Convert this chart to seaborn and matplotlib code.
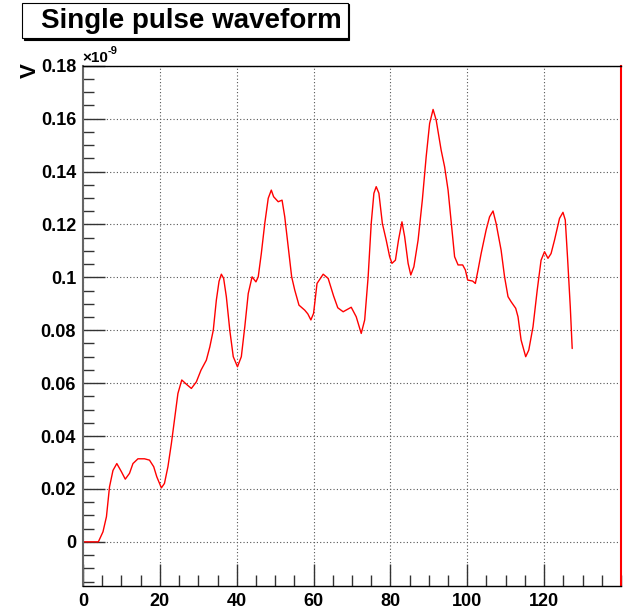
import matplotlib
matplotlib.use("Agg")
import matplotlib.pyplot as plt
import matplotlib.ticker as mticker
from matplotlib.patches import Rectangle
import seaborn as sns
import pandas as pd

# ---- data (values in units of 1e-9 V) ----
time_ns = [0, 2, 4, 5.2, 6.1, 6.9, 7.8, 8.8, 10.0, 11.0, 12.1, 13.0, 14.3, 16.0,
           17.3, 18.4, 19.2, 20.4, 21.2, 22.1, 23.0, 23.8, 24.7, 25.7, 26.9, 28.2,
           29.5, 30.7, 32.1, 33.0, 33.9, 34.7, 35.4, 36.0, 36.6, 37.3, 38.2, 39.1,
           40.2, 41.2, 42.1, 43.0, 44.0, 45.0, 45.6, 46.4, 47.3, 48.2, 49.0, 49.6,
           50.8, 51.8, 52.5, 53.4, 54.3, 55.1, 56.2, 57.7, 58.5, 59.3, 60.0, 60.9,
           62.5, 63.8, 65.2, 66.3, 67.7, 69.8, 71.1, 72.4, 73.3, 74.2, 75.0, 75.7,
           76.3, 77.0, 77.9, 78.9, 79.8, 80.4, 81.3, 82.1, 83.0, 83.7, 84.6, 85.3,
           86.1, 87.2, 88.3, 89.3, 90.2, 91.1, 91.9, 93.2, 94.1, 95.0, 95.9, 96.7,
           97.6, 98.8, 99.5, 100.1, 101.4, 102.1, 102.8, 103.6, 104.9, 105.8, 106.7,
           107.5, 108.8, 109.7, 110.6, 111.4, 112.6, 113.2, 114.0, 115.2, 116.0,
           117.1, 118.2, 119.2, 120.1, 121.0, 121.8, 122.7, 124.0, 124.9, 125.5,
           126.1, 126.8, 127.3]
voltage = [0, 0, 0, 0.0038, 0.0095, 0.0208, 0.027, 0.0296, 0.0265, 0.0237, 0.0259,
           0.0296, 0.0314, 0.0314, 0.0309, 0.0284, 0.0246, 0.0204, 0.0221, 0.0284,
           0.0372, 0.046, 0.0561, 0.0612, 0.0596, 0.058, 0.0605, 0.0649, 0.0687,
           0.0737, 0.080, 0.0914, 0.0985, 0.1012, 0.0996, 0.0927, 0.080, 0.070,
           0.0662, 0.070, 0.0813, 0.0939, 0.1002, 0.0983, 0.1002, 0.109, 0.1204,
           0.1299, 0.133, 0.1305, 0.1286, 0.1292, 0.1229, 0.1116, 0.1002, 0.0952,
           0.0895, 0.0876, 0.0862, 0.0839, 0.0864, 0.0977, 0.1012, 0.0996, 0.093,
           0.0885, 0.087, 0.0887, 0.0851, 0.0788, 0.0839, 0.1002, 0.1204, 0.1318,
           0.1343, 0.1318, 0.1204, 0.1141, 0.1078, 0.1053, 0.1065, 0.1141, 0.121,
           0.1154, 0.1053, 0.1009, 0.104, 0.1141, 0.1292, 0.1456, 0.1582, 0.1635,
           0.1595, 0.1481, 0.1418, 0.133, 0.1195, 0.1078, 0.1047, 0.1047, 0.1028,
           0.099, 0.0986, 0.0977, 0.1028, 0.109, 0.1179, 0.1229, 0.1251, 0.1204,
           0.1103, 0.1002, 0.0927, 0.0908, 0.0883, 0.0851, 0.0763, 0.070, 0.0725,
           0.0813, 0.0952, 0.1065, 0.1097, 0.1072, 0.109, 0.1141, 0.1223, 0.1246,
           0.1217, 0.1072, 0.0889, 0.0731]
x_ticks = [0, 20, 40, 60, 80, 100, 120]
y_ticks = [0, 0.02, 0.04, 0.06, 0.08, 0.1, 0.12, 0.14, 0.16, 0.18]
title = "Single pulse waveform"
y_label = "V"
exponent_base = "\u00d710"
exponent_power = "-9"

df = pd.DataFrame({"t": time_ns, "v": voltage})

sns.set_style("white")
plt.rcParams['font.family'] = ['Liberation Sans', 'DejaVu Sans']
plt.rcParams['font.weight'] = 'bold'
plt.rcParams['text.color'] = 'black'
plt.rcParams['xtick.color'] = 'black'
plt.rcParams['ytick.color'] = 'black'

W, H = 625, 613
fig = plt.figure(figsize=(W / 100, H / 100), dpi=100)
L, R, T, B = 83, 621, 65.8, 586
ax = fig.add_axes([L / W, 1 - B / H, (R - L) / W, (B - T) / H])

sns.lineplot(data=df, x="t", y="v", ax=ax, color="#ff0000", linewidth=1.0)

ax.set_xlim(0, 140)
ax.set_ylim(-0.0167, 0.18)
ax.set_xlabel("")
ax.set_ylabel("")

ax.xaxis.set_major_locator(mticker.FixedLocator(x_ticks))
ax.xaxis.set_minor_locator(mticker.MultipleLocator(5))
ax.yaxis.set_major_locator(mticker.FixedLocator(y_ticks))
ax.yaxis.set_minor_locator(mticker.MultipleLocator(0.005))
ax.yaxis.set_major_formatter(mticker.FuncFormatter(lambda v, p: f"{v:g}"))
ax.xaxis.set_major_formatter(mticker.FuncFormatter(lambda v, p: f"{v:g}"))

ax.tick_params(axis="both", which="both", bottom=True, left=True, top=False, right=False)
ax.tick_params(axis="both", which="major", direction="in", length=16, width=1,
               color="#333333", labelcolor="black", labelsize=13, pad=5)
ax.tick_params(axis="both", which="minor", direction="in", length=8, width=1,
               color="#333333")
for lab in ax.get_xticklabels() + ax.get_yticklabels():
    lab.set_fontweight("bold")

ax.grid(True, which="major", color="#555555", linestyle=(0, (1, 2)), linewidth=0.8)

for s in ["left", "bottom", "top"]:
    ax.spines[s].set_visible(True)
    ax.spines[s].set_color("black")
    ax.spines[s].set_linewidth(1)
ax.spines["left"].set_color("#666666")
ax.spines["left"].set_linewidth(1.5)
ax.spines["right"].set_visible(True)
ax.spines["right"].set_color("#ff0000")
ax.spines["right"].set_linewidth(1.5)

# y label at top of axis
fig.text(30 / W, 1 - 71 / H, y_label, rotation=90, ha="center", va="center",
         fontsize=16, fontweight="bold", color="black")
# exponent
fig.text(82 / W, 1 - 62 / H, exponent_base, ha="left", va="baseline",
         fontsize=11, fontweight="bold", color="black")
fig.text(107.5 / W, 1 - 54 / H, exponent_power, ha="left", va="baseline",
         fontsize=8, fontweight="bold", color="black")

# title box with shadow
bx0, by0, bx1, by1 = 22, 3, 348, 38
fig.patches.append(Rectangle((bx0 / W + 1.5 / W, 1 - (by1 + 1.5) / H),
                             (bx1 - bx0) / W, (by1 - by0) / H,
                             transform=fig.transFigure, facecolor="black",
                             edgecolor="black", linewidth=0.8, zorder=1))
fig.patches.append(Rectangle((bx0 / W, 1 - by1 / H), (bx1 - bx0) / W, (by1 - by0) / H,
                             transform=fig.transFigure, facecolor="white",
                             edgecolor="black", linewidth=0.8, zorder=2))
fig.text(191 / W, 1 - 21 / H, title, ha="center", va="center",
         fontsize=20, fontweight="bold", color="black", zorder=3)

fig.savefig("out.png", dpi=100, facecolor="white")
